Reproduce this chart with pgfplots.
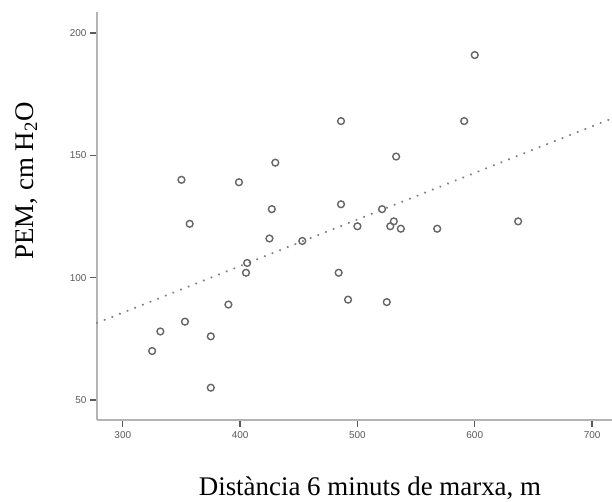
\documentclass[border=0pt]{standalone}
\usepackage{fontspec}
\setmainfont{Liberation Serif}
\newfontfamily\ticksfont{Liberation Sans}
\usepackage{pgfplots}
\pgfplotsset{compat=1.18}
\definecolor{axisgray}{HTML}{B4B4B4}
\definecolor{tickgray}{HTML}{5A5A5A}
\definecolor{markgray}{HTML}{666666}
\definecolor{linegray}{HTML}{808080}
\begin{document}
\begin{tikzpicture}
\useasboundingbox (0,0) rectangle (612bp,502bp);
\begin{axis}[
  at={(97bp,82bp)}, anchor=south west,
  width=515bp, height=408bp, scale only axis,
  xmin=278, xmax=717, ymin=41.8, ymax=208.6,
  axis x line*=bottom, axis y line*=left,
  axis line style={draw=axisgray, line width=2bp, -},
  xtick={300,400,500,600,700},
  ytick={50,100,150,200},
  tick align=outside,
  major tick length=7bp,
  every tick/.style={draw=tickgray, line width=1.3bp},
  /pgf/number format/assume math mode=true,
  /pgf/number format/1000 sep={},
  tick label style={font=\ticksfont\fontsize{10}{12}\selectfont, text=tickgray},
  xticklabel style={yshift=-1bp},
  xlabel={Distància 6 minuts de marxa, m},
  ylabel={PEM, cm H\textsubscript{2}O},
  label style={font=\fontsize{27}{32}\selectfont},
  xlabel style={at={(axis description cs:0.530,-0.184)}, anchor=base},
  ylabel style={at={(axis description cs:-0.124,0.586)}, anchor=base},
  clip=false,
]
\addplot[draw=linegray, line width=2.4bp, line cap=round, dash pattern=on 0.01bp off 8.2bp]
  coordinates {(278,81.5) (717,165.1)};
\addplot[only marks, mark=o, mark size=3.4bp, mark options={draw=markgray, line width=1.4bp}]
  coordinates {
  (350,140) (399,139) (430,147) (427,128) (600,191) (486,164) (591,164)
  (533,149.5) (486,130) (521,128) (531,123) (637,123) (357,122) (425,116)
  (453,115) (406,106) (405,102) (390,89) (353,82) (332,78) (375,76)
  (325,70) (375,55) (500,121) (528,121) (537,120) (568,120) (484,102)
  (492,91) (525,90)
  };
\end{axis}
\end{tikzpicture}
\end{document}
